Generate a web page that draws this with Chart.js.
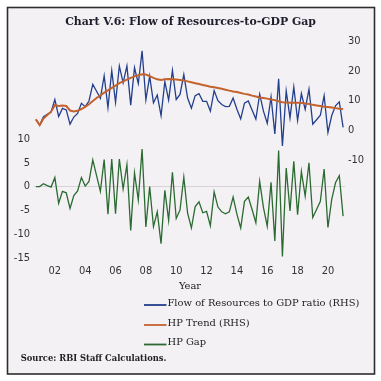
<!DOCTYPE html>
<html>
<head>
<meta charset="utf-8">
<script src="https://cdn.jsdelivr.net/npm/chart.js@4.4.1/dist/chart.umd.min.js"></script>
<style>
  html, body { margin: 0; padding: 0; background: #ffffff; }
  canvas { display: block; }
</style>
</head>
<body>
<canvas id="c" width="381" height="381"></canvas>
<script>
// ---- Data ----
const startYear = 2000, startQuarter = 4, nQuarters = 82;
const quarters = [];
for (let k = 0; k < nQuarters; k++) {
  const qi = startQuarter - 1 + k;
  quarters.push((startYear + Math.floor(qi / 4)) + '-Q' + (qi % 4 + 1));
}
const yearTickLabels = ['02','04','06','08','10','12','14','16','18','20'];
const leftTicks = [-15, -10, -5, 0, 5, 10];
const rightTicks = [-10, 0, 10, 20, 30];

const seriesLabels = ['Flow of Resources to GDP ratio (RHS)', 'HP Trend (RHS)', 'HP Gap'];

const flowRatio = [3.6,1.7,4.5,5.3,6.1,10.3,4.6,7.3,6.8,2.0,
  4.4,5.6,9.0,7.9,9.8,15.4,13.1,10.7,18.3,7.6,
  20.0,9.3,21.6,15.9,21.6,8.4,21.0,15.7,26.7,10.2,
  18.2,9.2,11.8,4.9,16.3,10.1,20.1,10.3,12.0,18.7,
  10.8,7.4,11.6,12.3,9.7,9.7,6.4,13.3,9.9,8.6,
  7.9,8.0,10.8,7.0,3.8,9.1,9.8,6.8,3.7,12.1,
  6.4,2.3,11.2,-1.3,17.3,-5.3,13.2,4.1,14.5,3.3,
  12.3,7.0,13.8,2.0,3.5,5.0,11.6,-0.8,4.9,8.2,
  9.5,0.9];

const hpTrend = [3.6,1.7,3.9,5.1,6.2,8.4,8.1,8.3,8.1,6.6,
  6.3,6.5,7.1,7.8,8.7,9.8,10.8,11.7,12.6,13.4,
  14.2,15.0,15.8,16.4,17.0,17.6,18.1,18.5,18.8,18.7,
  18.2,17.6,17.1,16.9,17.1,17.2,17.1,17.0,16.9,16.7,
  16.4,16.1,15.8,15.5,15.2,14.9,14.6,14.4,14.2,13.9,
  13.6,13.3,13.0,12.8,12.5,12.2,12.0,11.6,11.3,11.0,
  10.8,10.6,10.3,10.1,9.7,9.4,9.3,9.2,9.2,9.2,
  9.1,9.0,8.8,8.5,8.3,8.1,7.9,7.8,7.6,7.4,
  7.2,7.1];

const hpGap = [0,0,0.6,0.2,-0.1,1.9,-3.5,-1.0,-1.3,-4.6,
  -1.9,-0.9,1.9,0.1,1.1,5.6,2.3,-1.0,5.7,-5.8,
  5.8,-5.7,5.8,-0.5,4.6,-9.2,2.9,-2.8,7.9,-8.5,
  0,-8.4,-5.3,-12.0,-0.8,-7.1,3.0,-6.7,-4.9,2.0,
  -5.6,-8.7,-4.2,-3.2,-5.5,-5.2,-8.2,-1.1,-4.3,-5.3,
  -5.7,-5.3,-2.2,-5.8,-8.7,-3.1,-2.2,-4.8,-7.6,1.1,
  -4.4,-8.3,0.9,-11.4,7.6,-14.7,3.9,-5.1,5.3,-5.9,
  3.2,-2.0,5.0,-6.5,-4.8,-3.1,3.7,-8.6,-2.7,0.8,
  2.3,-6.2];

// ---- Styling ----
const BLUE = '#233f8c', ORANGE = '#c4622d', GREEN = '#2b6a31';
const TICK_FONT = "'Liberation Sans Narrow', 'Arial Narrow', 'DejaVu Sans Condensed', sans-serif";
const SERIF = "'DejaVu Serif', 'Liberation Serif', serif";

function fitSize(ctx, text, weight, family, target) {
  ctx.font = weight + ' 20px ' + family;
  const w = ctx.measureText(text).width;
  return 20 * target / w;
}

const decor = {
  id: 'decor',
  beforeDraw(chart) {
    const ctx = chart.ctx;
    ctx.save();
    ctx.fillStyle = '#ffffff';
    ctx.fillRect(0, 0, chart.width, chart.height);
    ctx.fillStyle = '#f4f1f4';
    ctx.fillRect(7, 7, 368, 367);
    ctx.restore();
  },
  afterDraw(chart) {
    const ctx = chart.ctx;
    ctx.save();
    // frame
    ctx.strokeStyle = '#2e2e2e';
    ctx.lineWidth = 1.6;
    ctx.strokeRect(7.5, 7.5, 367, 366.5);
    // title
    const title = 'Chart V.6: Flow of Resources-to-GDP Gap';
    let s = fitSize(ctx, title, 'bold', SERIF, 251);
    ctx.font = 'bold ' + s + 'px ' + SERIF;
    ctx.fillStyle = '#1d1d2b';
    ctx.textAlign = 'center';
    ctx.textBaseline = 'middle';
    ctx.fillText(title, 190.5, 22.5);
    // legend
    const ls = fitSize(ctx, seriesLabels[0], 'normal', SERIF, 192);
    ctx.font = ls + 'px ' + SERIF;
    ctx.fillStyle = '#222';
    ctx.textAlign = 'center';
    ctx.fillText('Year', 190, 286.5);
    const rows = [303, 323, 342.5];
    chart.data.datasets.forEach((ds, i) => {
      ctx.strokeStyle = ds.borderColor;
      ctx.lineWidth = 1.8;
      ctx.beginPath();
      ctx.moveTo(144, rows[i] + 2);
      ctx.lineTo(166.5, rows[i] + 2);
      ctx.stroke();
      ctx.textAlign = 'left';
      ctx.fillStyle = '#222';
      ctx.fillText(ds.label, 167.5, rows[i]);
    });
    // source
    const src = 'Source: RBI Staff Calculations.';
    const ss = fitSize(ctx, src, 'bold', SERIF, 146);
    ctx.font = 'bold ' + ss + 'px ' + SERIF;
    ctx.textAlign = 'left';
    ctx.fillStyle = '#222';
    ctx.fillText(src, 20.7, 359);
    ctx.restore();
  }
};

// axis geometry: chart area 34..345 x 41..258
const AREA_TOP = 41, AREA_BOTTOM = 258;
const leftUnit = 4.76, rightUnit = 2.97;
const leftMin = -15, leftMax = leftMin + (AREA_BOTTOM - AREA_TOP) / leftUnit;
const rightMax = 30, rightMin = rightMax - (AREA_BOTTOM - AREA_TOP) / rightUnit;

new Chart(document.getElementById('c'), {
  type: 'line',
  data: {
    labels: quarters,
    datasets: [
      { label: seriesLabels[0], data: flowRatio, yAxisID: 'y1', borderColor: BLUE, borderWidth: 1.3, order: 1 },
      { label: seriesLabels[1], data: hpTrend, yAxisID: 'y1', borderColor: ORANGE, borderWidth: 2, order: 0 },
      { label: seriesLabels[2], data: hpGap, yAxisID: 'y', borderColor: GREEN, borderWidth: 1.3, order: 2 }
    ]
  },
  options: {
    responsive: false,
    animation: false,
    devicePixelRatio: 1,
    elements: { point: { radius: 0 }, line: { tension: 0, fill: false } },
    layout: { padding: { top: AREA_TOP, left: 0, right: 0, bottom: 381 - AREA_BOTTOM - 30 } },
    plugins: { legend: { display: false }, title: { display: false }, tooltip: { enabled: false } },
    scales: {
      x: {
        type: 'category',
        offset: true,
        grid: { display: false, drawTicks: false },
        border: { display: false },
        ticks: {
          autoSkip: false, maxRotation: 0, minRotation: 0, padding: 7,
          color: '#333', font: { family: TICK_FONT, size: 11 },
          callback: (v, idx) => ((idx - 5) % 8 === 0 && idx >= 5) ? yearTickLabels[(idx - 5) / 8] : ''
        },
        afterFit: (sc) => { sc.height = 30; }
      },
      y: {
        position: 'left',
        min: leftMin, max: leftMax,
        grid: { drawTicks: false, color: (c) => (c.tick && c.tick.value === 0) ? '#d8d3d8' : 'rgba(0,0,0,0)', lineWidth: 1 },
        border: { display: false },
        ticks: { padding: 4, color: '#333', font: { family: TICK_FONT, size: 11 } },
        afterBuildTicks: (sc) => { sc.ticks = leftTicks.map(v => ({ value: v })); },
        afterFit: (sc) => { sc.width = 34; }
      },
      y1: {
        position: 'right',
        min: rightMin, max: rightMax,
        grid: { display: false, drawTicks: false },
        border: { display: false },
        ticks: { padding: 3, color: '#333', font: { family: TICK_FONT, size: 11 } },
        afterBuildTicks: (sc) => { sc.ticks = rightTicks.map(v => ({ value: v })); },
        afterFit: (sc) => { sc.width = 36; }
      }
    }
  },
  plugins: [decor]
});
</script>
</body>
</html>
